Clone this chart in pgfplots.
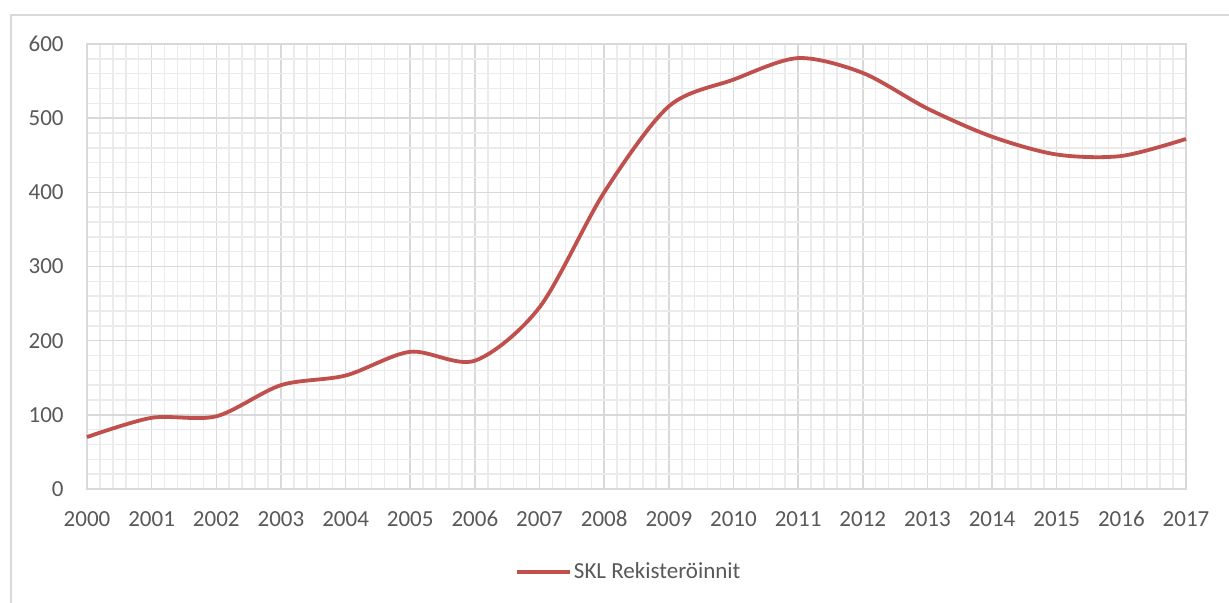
\documentclass[border=0pt]{standalone}
\usepackage{fontspec}
\setmainfont{Carlito}
\usepackage{pgfplots}
\pgfplotsset{compat=1.18}
\definecolor{txt}{HTML}{595959}
\definecolor{major}{HTML}{D9D9D9}
\definecolor{minor}{HTML}{EBEBEB}
\definecolor{serred}{HTML}{C0504D}
\definecolor{frame}{HTML}{D9D9D9}
\begin{document}
\begin{tikzpicture}
\clip (-43.5pt,-57pt) rectangle (571pt,244.5pt);
\fill[white] (-43.5pt,-57pt) rectangle (571pt,244.5pt);
\draw[frame, line width=1.2pt] (-38pt,-70pt) -- (-38pt,237pt) -- (600pt,237pt);
\begin{axis}[
  at={(0pt,0pt)}, anchor=south west,
  scale only axis,
  width=549.5pt, height=222.5pt,
  xmin=0, xmax=17, ymin=0, ymax=600,
  xtick={0,1,...,17},
  xticklabels={2000,2001,2002,2003,2004,2005,2006,2007,2008,2009,2010,2011,2012,2013,2014,2015,2016,2017},
  minor xtick={0,0.2,...,17},
  ytick={0,100,...,600},
  minor ytick={0,20,...,600},
  grid=both,
  major grid style={draw=major, line width=0.75pt},
  minor grid style={draw=minor, line width=0.75pt},
  axis line style={draw=major, line width=0.75pt},
  tick style={draw=none},
  major tick length=0pt, minor tick length=0pt,
  /pgf/number format/assume math mode=true,
  tick label style={font=\fontsize{11.5}{13}\selectfont, text=txt},
  xticklabel style={anchor=base, yshift=-19pt, inner sep=0pt},
  yticklabel style={anchor=east, xshift=-11.5pt, inner sep=0pt},
  legend style={at={(0.493,-0.1865)}, anchor=center, draw=none, fill=none,
    font=\fontsize{11.5}{13}\selectfont, text=txt, inner sep=0pt,
    nodes={inner sep=1pt}},
  legend image code/.code={\draw[#1] (0pt,0pt) -- (26.5pt,0pt);},
  clip=false,
]
\addplot[serred, line width=1.9pt, smooth, tension=0.5] coordinates {
(0,70) (1,96) (2,98) (3,140) (4,153) (5,185) (6,173)
(7,245) (8,400) (9,516) (10,552) (11,581) (12,561)
(13,513) (14,475) (15,451) (16,449) (17,472)
};
\addlegendentry{SKL Rekisteröinnit}
\end{axis}
\end{tikzpicture}
\end{document}
